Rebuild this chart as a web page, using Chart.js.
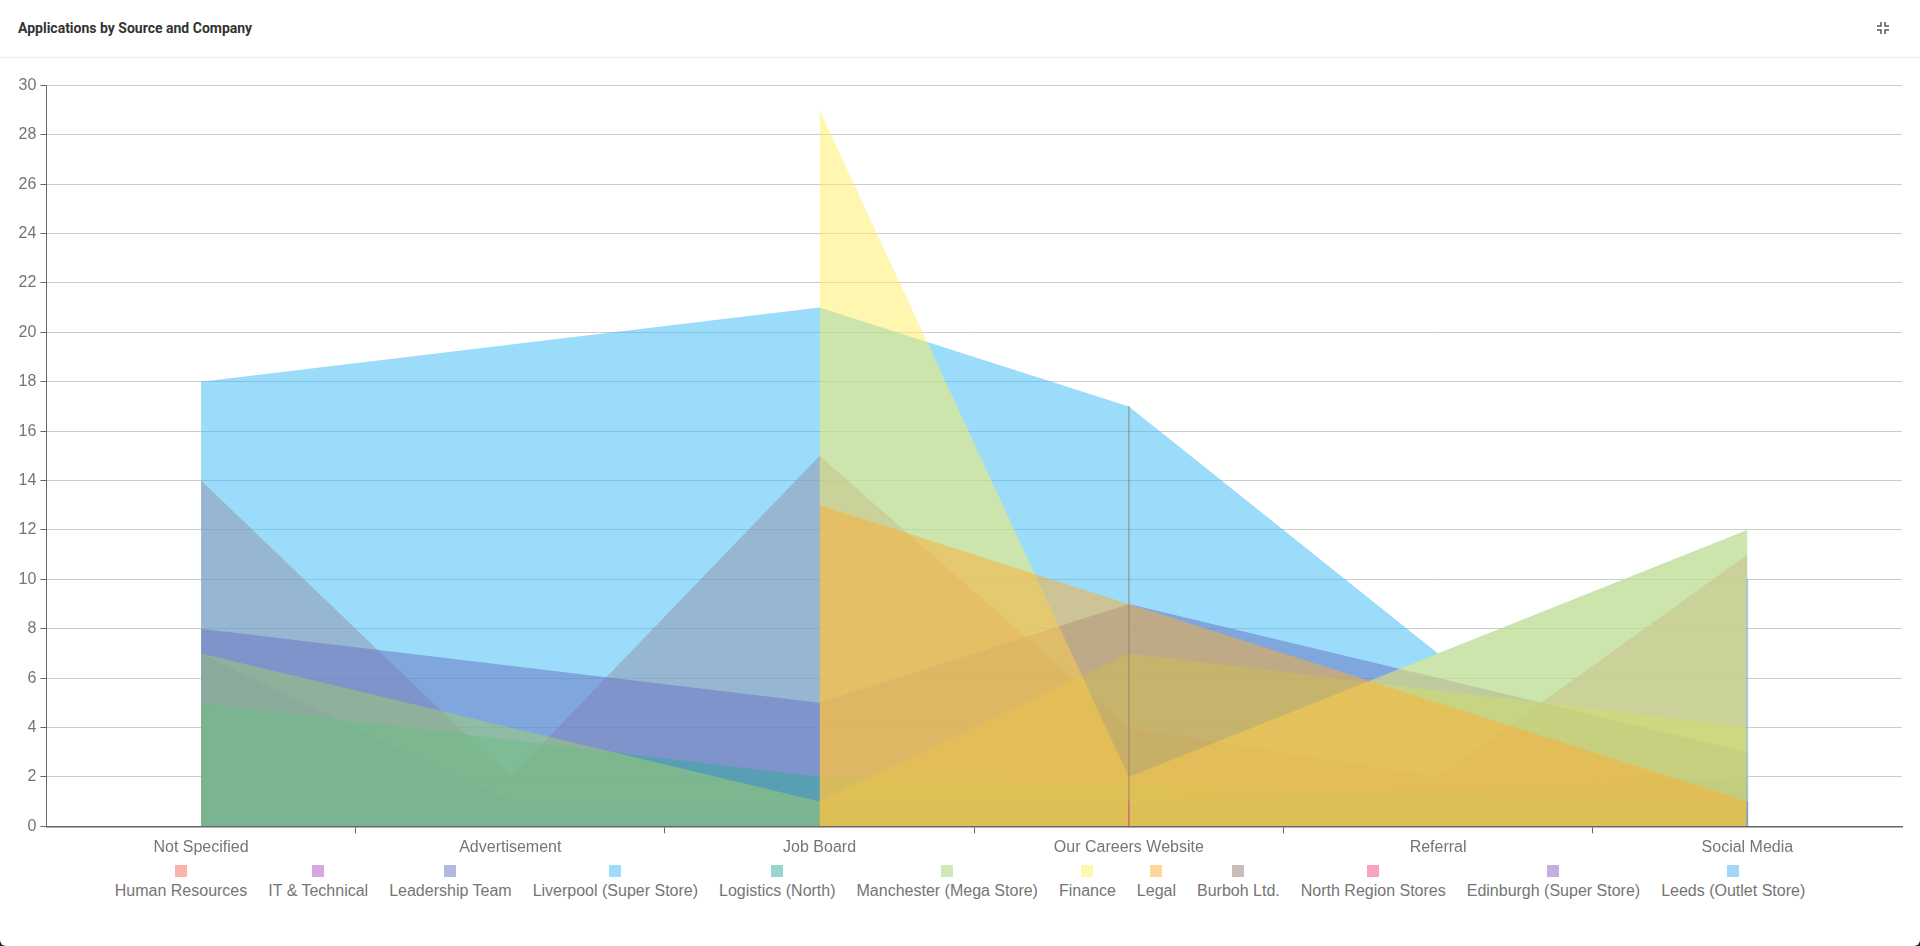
<!DOCTYPE html>
<html>
<head>
<meta charset="utf-8">
<title>Applications by Source and Company</title>
<script src="https://cdn.jsdelivr.net/npm/chart.js@4"></script>
<style>
  html, body { margin: 0; padding: 0; background: #1b2a3a; }
  #card { position: relative; width: 1920px; height: 946px; background: #fff; border-radius: 0 0 6px 6px; overflow: hidden; }
  #title { position: absolute; left: 18px; top: 19px; font: 700 14px/18px Roboto, sans-serif; color: #333; }
  #divider { position: absolute; left: 0; right: 0; top: 57px; height: 1px; background: #eee; }
  #icon { position: absolute; left: 1877px; top: 22px; }
  #chartBox { position: absolute; left: 0; top: 60px; width: 1920px; height: 800px; }
  #legend { position: absolute; left: 0; width: 1920px; top: 865px; display: flex; justify-content: center; gap: 21px; font: 16px/20px "Liberation Sans", sans-serif; color: #757575; }
  .item { display: flex; flex-direction: column; align-items: center; white-space: nowrap; }
  .box { width: 12px; height: 12px; margin-bottom: 4px; }
</style>
</head>
<body>
<div id="card">
  <div id="title">Applications by Source and Company</div>
  <div id="divider"></div>
  <svg id="icon" width="12" height="12" viewBox="0 0 12 12" fill="none" stroke="#555" stroke-width="1.5">
    <path d="M0 4H4V0M8 0V4H12M12 8H8V12M4 12V8H0"/>
  </svg>
  <div id="chartBox"><canvas id="chart"></canvas></div>
  <div id="legend"></div>
</div>
<script>
const sources = ["Not Specified", "Advertisement", "Job Board", "Our Careers Website", "Referral", "Social Media"];
const companies = [
  "Human Resources", "IT & Technical", "Leadership Team", "Liverpool (Super Store)",
  "Logistics (North)", "Manchester (Mega Store)", "Finance", "Legal", "Burboh Ltd.",
  "North Region Stores", "Edinburgh (Super Store)", "Leeds (Outlet Store)"
];
const colours = [
  "246,105,94", "176,82,192", "101,116,196", "53,186,246", "51,171,160", "162,207,110",
  "255,239,98", "255,173,51", "148,119,109", "237,75,130", "133,97,197", "77,171,245"
];
// higher is drawn first, Leadership Team sits above Liverpool
const layerOrder = [12, 11, 9, 10, 8, 7, 6, 5, 4, 3, 2, 1];

const humanResources = [14, 2, 15, 4, 2, 11];
const itTechnical = [7, 1, 1, 1, null, 2];
const leadershipTeam = [8, null, 5, 9, 6, 3];
const liverpool = [18, null, 21, 17, 7, 12];
const logistics = [5, null, 2, null, null, 1];
const manchester = [7, null, 1, 7, null, 4];
const finance = [null, null, 29, 2, 7, 12];
const legal = [null, null, 13, 9, 5, 1];
const burboh = [null, null, null, 17, null, null];
const northRegion = [null, null, null, 1, null, null];
const edinburgh = [null, null, null, null, null, 1];
const leeds = [null, null, null, null, null, 10];

const seriesValues = [
  humanResources, itTechnical, leadershipTeam, liverpool, logistics, manchester,
  finance, legal, burboh, northRegion, edinburgh, leeds
];
const yTicks = { min: 0, max: 30, step: 2 };

// series with one point have no area, they show as a hairline
const datasets = seriesValues.map((values, i) => {
  const single = values.filter((v) => v !== null).length === 1;
  const common = {
    label: companies[i],
    data: values,
    backgroundColor: `rgba(${colours[i]},0.5)`,
    order: layerOrder[i],
  };
  if (single) {
    return { ...common, type: "bar", barThickness: 1, grouped: false };
  }
  return {
    ...common,
    type: "line",
    fill: "origin",
    borderWidth: 0,
    pointRadius: 0,
    tension: 0,
    spanGaps: true,
  };
});

const tickFont = { family: "'Liberation Sans', sans-serif", size: 16 };

new Chart(document.getElementById("chart"), {
  type: "line",
  data: { labels: sources, datasets },
  options: {
    responsive: true,
    maintainAspectRatio: false,
    animation: false,
    layout: { padding: { left: 0, right: 18, top: 25.3, bottom: 0 } },
    plugins: { legend: { display: false }, tooltip: { enabled: false } },
    scales: {
      x: {
        offset: true,
        afterFit: (scale) => { scale.height = 33.7; },
        grid: {
          drawOnChartArea: false,
          tickLength: 7,
          tickColor: (ctx) => (ctx.index > 0 ? "#666" : "transparent"),
        },
        border: { color: "#666", width: 1.5 },
        ticks: { color: "#757575", font: tickFont, padding: 5, maxRotation: 0 },
      },
      y: {
        min: yTicks.min,
        max: yTicks.max,
        afterFit: (scale) => { scale.width = 46.4; },
        grid: { color: "#ccc", tickColor: "#666", tickLength: 6 },
        border: { color: "#666", width: 1 },
        ticks: { stepSize: yTicks.step, color: "#757575", font: tickFont, padding: 4 },
      },
    },
  },
});

const legendEl = document.getElementById("legend");
companies.forEach((name, i) => {
  const item = document.createElement("div");
  item.className = "item";
  const box = document.createElement("div");
  box.className = "box";
  box.style.background = `rgba(${colours[i]},0.5)`;
  const text = document.createElement("div");
  text.textContent = name;
  item.append(box, text);
  legendEl.append(item);
});
</script>
</body>
</html>
